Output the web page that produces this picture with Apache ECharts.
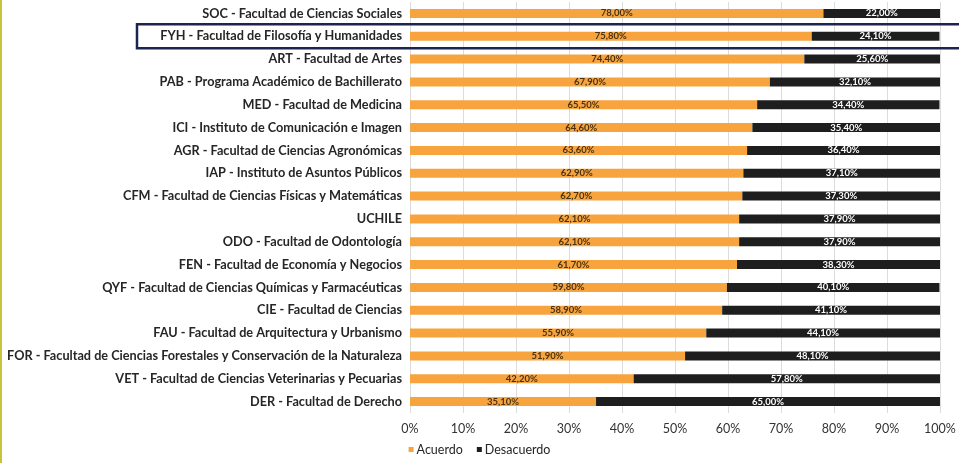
<!DOCTYPE html>
<html lang="es">
<head>
  <meta charset="utf-8">
  <title>Acuerdo / Desacuerdo por unidad</title>
  <script src="https://cdn.jsdelivr.net/npm/echarts@6/dist/echarts.min.js"></script>
  <style>
    html, body { margin: 0; padding: 0; background: #fff; }
    #chart { width: 959px; height: 463px; }
  </style>
</head>
<body>
  <div id="chart"></div>
  <script>
    // unidades, de arriba hacia abajo
    var unidades = [
      'SOC - Facultad de Ciencias Sociales',
      'FYH - Facultad de Filosofía y Humanidades',
      'ART - Facultad de Artes',
      'PAB - Programa Académico de Bachillerato',
      'MED - Facultad de Medicina',
      'ICI - Instituto de Comunicación e Imagen',
      'AGR - Facultad de Ciencias Agronómicas',
      'IAP - Instituto de Asuntos Públicos',
      'CFM - Facultad de Ciencias Físicas y Matemáticas',
      'UCHILE',
      'ODO - Facultad de Odontología',
      'FEN - Facultad de Economía y Negocios',
      'QYF - Facultad de Ciencias Químicas y Farmacéuticas',
      'CIE - Facultad de Ciencias',
      'FAU - Facultad de Arquitectura y Urbanismo',
      'FOR - Facultad de Ciencias Forestales y Conservación de la Naturaleza',
      'VET - Facultad de Ciencias Veterinarias y Pecuarias',
      'DER - Facultad de Derecho'
    ];
    var acuerdo = [78.0, 75.8, 74.4, 67.9, 65.5, 64.6, 63.6, 62.9, 62.7, 62.1, 62.1, 61.7, 59.8, 58.9, 55.9, 51.9, 42.2, 35.1];
    var desacuerdo = [22.0, 24.1, 25.6, 32.1, 34.4, 35.4, 36.4, 37.1, 37.3, 37.9, 37.9, 38.3, 40.1, 41.1, 44.1, 48.1, 57.8, 65.0];
    var ticks = ['0%', '10%', '20%', '30%', '40%', '50%', '60%', '70%', '80%', '90%', '100%'];
    var destacada = 'FYH - Facultad de Filosofía y Humanidades';

    function pct(v) {
      return v.toFixed(2).replace('.', ',') + '%';
    }

    var chart = echarts.init(document.getElementById('chart'));
    chart.setOption({
      animation: false,
      textStyle: { fontFamily: 'Lato' },
      grid: { left: 410, right: 19, top: 2, bottom: 50, containLabel: false },
      legend: {
        bottom: 2,
        left: 'center',
        itemWidth: 5,
        itemHeight: 5,
        itemGap: 14,
        textStyle: { fontSize: 12.5, color: '#262626', padding: [0, 0, 0, -2] },
        data: [
          { name: 'Acuerdo', icon: 'rect' },
          { name: 'Desacuerdo', icon: 'rect' }
        ]
      },
      xAxis: {
        type: 'value',
        min: 0,
        max: 100,
        interval: 10,
        axisLine: { show: false },
        axisTick: { show: false },
        splitLine: { lineStyle: { color: '#dcdcdc', width: 1 } },
        axisLabel: {
          margin: 9,
          fontSize: 12.5,
          color: '#333',
          formatter: function (v) { return ticks[Math.round(v / 10)]; }
        }
      },
      yAxis: {
        type: 'category',
        inverse: true,
        data: unidades,
        axisLine: { show: false },
        axisTick: { show: false },
        axisLabel: { margin: 8, fontSize: 12.7, fontWeight: 'bold', color: '#262626' }
      },
      series: [
        {
          name: 'Acuerdo',
          type: 'bar',
          stack: 'total',
          barWidth: 9,
          data: acuerdo,
          itemStyle: { color: '#f7a43f' },
          label: {
            show: true,
            position: 'inside',
            fontSize: 9.5,
            fontWeight: 'bold',
            color: '#4a3210',
            formatter: function (p) { return pct(p.value); }
          }
        },
        {
          name: 'Desacuerdo',
          type: 'bar',
          stack: 'total',
          barWidth: 9,
          data: desacuerdo,
          itemStyle: { color: '#1e1e1e' },
          label: {
            show: true,
            position: 'inside',
            fontSize: 9.5,
            fontWeight: 'bold',
            color: '#ffffff',
            formatter: function (p) { return pct(p.value); }
          }
        }
      ]
    });

    // recuadro que destaca FYH y borde amarillo izquierdo
    var yc = chart.convertToPixel({ yAxisIndex: 0 }, destacada);
    chart.setOption({
      graphic: [
        {
          type: 'rect',
          shape: { x: 137, y: yc - 12, width: 840, height: 24 },
          style: { fill: 'none', stroke: '#1c2550', lineWidth: 2.5 },
          z: 100
        },
        {
          type: 'rect',
          shape: { x: 0, y: 0, width: 2, height: 463 },
          style: { fill: '#c8c43a' },
          z: 100
        }
      ]
    });

    window.onresize = function () {
      chart.resize();
    };
  </script>
</body>
</html>
